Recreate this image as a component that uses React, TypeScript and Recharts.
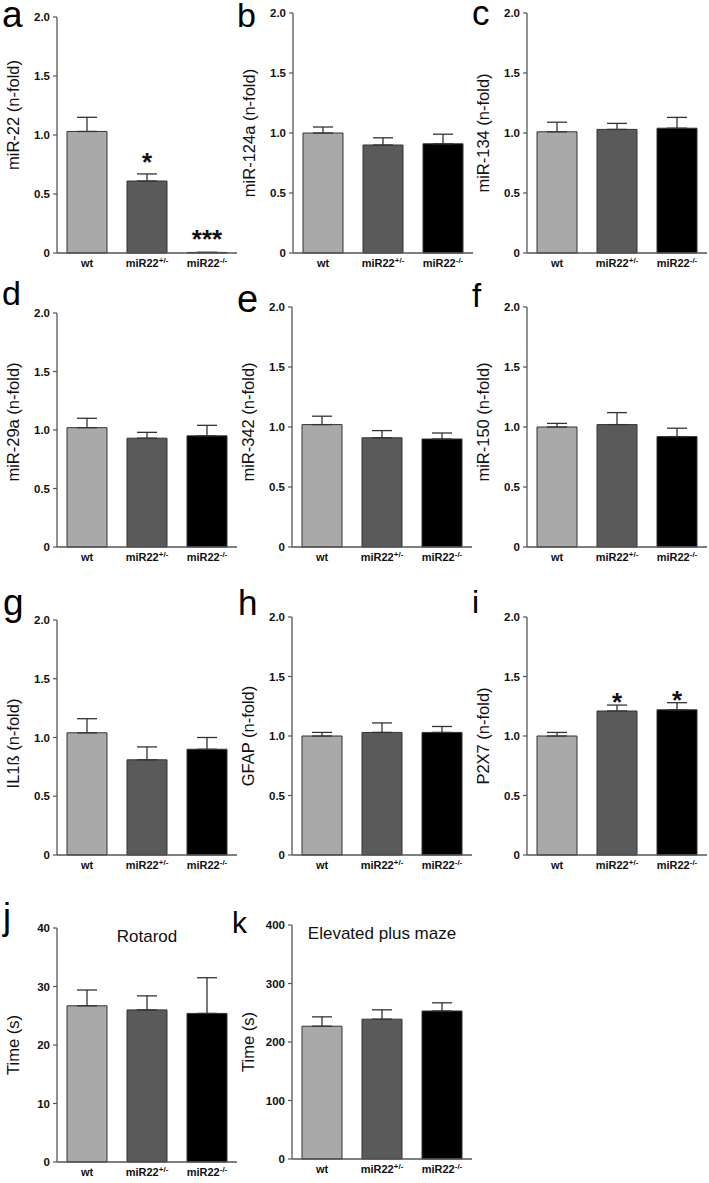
import React from "react";
import {
  ComposedChart,
  Bar,
  Cell,
  XAxis,
  YAxis,
  ErrorBar,
  ReferenceDot,
  Label
} from "recharts";

const FONT = "Liberation Sans, Arial, sans-serif";

const genotypes = ["wt", "miR22+/-", "miR22-/-"];
const genotypeColors = ["#a9a9a9", "#5a5a5a", "#000000"];

const foldTicks = [0, 0.5, 1, 1.5, 2];
const rotarodTicks = [0, 10, 20, 30, 40];
const mazeTicks = [0, 100, 200, 300, 400];

// means and upper SEM (wt, het, ko)
const miR22Mean = [1.03, 0.61, 0.005];
const miR22Sem = [0.12, 0.06, 0];
const miR22Stars = ["", "*", "***"];
const miR22StarAt = [0, 0.82, 0.17];

const miR124aMean = [1.0, 0.9, 0.91];
const miR124aSem = [0.05, 0.06, 0.08];

const miR134Mean = [1.01, 1.03, 1.04];
const miR134Sem = [0.08, 0.05, 0.09];

const miR29aMean = [1.02, 0.93, 0.95];
const miR29aSem = [0.08, 0.05, 0.09];

const miR342Mean = [1.02, 0.91, 0.9];
const miR342Sem = [0.07, 0.06, 0.05];

const miR150Mean = [1.0, 1.02, 0.92];
const miR150Sem = [0.03, 0.1, 0.07];

const il1bMean = [1.04, 0.81, 0.9];
const il1bSem = [0.12, 0.11, 0.1];

const gfapMean = [1.0, 1.03, 1.03];
const gfapSem = [0.03, 0.08, 0.05];

const p2x7Mean = [1.0, 1.21, 1.22];
const p2x7Sem = [0.03, 0.05, 0.06];
const p2x7Stars = ["", "*", "*"];
const p2x7StarAt = [0, 1.34, 1.35];

const rotarodMean = [26.7, 26.0, 25.4];
const rotarodSem = [2.7, 2.4, 6.1];

const mazeMean = [227, 239, 253];
const mazeSem = [16, 16, 14];

type PanelDef = {
  letter: string;
  label: string;
  mean: number[];
  sem: number[];
  ticks: number[];
  stars?: string[];
  starAt?: number[];
  title?: string;
  axisX: number;
  top: number;
  zero: number;
  labelShift: number;
  letterX: number;
  letterY: number;
  letterSize: number;
};

const panels: PanelDef[] = [
  { letter: "a", label: "miR-22 (n-fold)", mean: miR22Mean, sem: miR22Sem, ticks: foldTicks, stars: miR22Stars, starAt: miR22StarAt, axisX: 57, top: 17, zero: 253, labelShift: -20, letterX: 2, letterY: 27, letterSize: 37 },
  { letter: "b", label: "miR-124a (n-fold)", mean: miR124aMean, sem: miR124aSem, ticks: foldTicks, axisX: 293, top: 13, zero: 253, labelShift: 0, letterX: 237, letterY: 27, letterSize: 34 },
  { letter: "c", label: "miR-134 (n-fold)", mean: miR134Mean, sem: miR134Sem, ticks: foldTicks, axisX: 527, top: 13, zero: 253, labelShift: 0, letterX: 472, letterY: 25, letterSize: 35 },
  { letter: "d", label: "miR-29a (n-fold)", mean: miR29aMean, sem: miR29aSem, ticks: foldTicks, axisX: 57, top: 313, zero: 547, labelShift: -8, letterX: 2, letterY: 305, letterSize: 34 },
  { letter: "e", label: "miR-342 (n-fold)", mean: miR342Mean, sem: miR342Sem, ticks: foldTicks, axisX: 292, top: 307, zero: 547, labelShift: -5, letterX: 237, letterY: 312, letterSize: 38 },
  { letter: "f", label: "miR-150 (n-fold)", mean: miR150Mean, sem: miR150Sem, ticks: foldTicks, axisX: 527, top: 307, zero: 547, labelShift: -5, letterX: 472, letterY: 307, letterSize: 33 },
  { letter: "g", label: "IL1ß (n-fold)", mean: il1bMean, sem: il1bSem, ticks: foldTicks, axisX: 57, top: 620, zero: 855, labelShift: 6, letterX: 3, letterY: 615, letterSize: 37 },
  { letter: "h", label: "GFAP (n-fold)", mean: gfapMean, sem: gfapSem, ticks: foldTicks, axisX: 292, top: 617, zero: 855, labelShift: 0, letterX: 238, letterY: 615, letterSize: 35 },
  { letter: "i", label: "P2X7 (n-fold)", mean: p2x7Mean, sem: p2x7Sem, ticks: foldTicks, stars: p2x7Stars, starAt: p2x7StarAt, axisX: 527, top: 617, zero: 855, labelShift: 0, letterX: 472, letterY: 613, letterSize: 32 },
  { letter: "j", label: "Time (s)", mean: rotarodMean, sem: rotarodSem, ticks: rotarodTicks, title: "Rotarod", axisX: 57, top: 928, zero: 1162, labelShift: 0, letterX: 3, letterY: 929, letterSize: 36 },
  { letter: "k", label: "Time (s)", mean: mazeMean, sem: mazeSem, ticks: mazeTicks, title: "Elevated plus maze", axisX: 292, top: 925, zero: 1159, labelShift: 0, letterX: 232, letterY: 933, letterSize: 30 }
];

const GenoTick = (props: any) => {
  const { x, y, payload } = props;
  const v = String(payload.value);
  const isMut = v.startsWith("miR22");
  const base = isMut ? "miR22" : v;
  const sup = isMut ? v.slice(5) : "";
  return (
    <text x={x} y={y + 14} textAnchor="middle" fontSize={11} fontWeight="bold" fill="#111" fontFamily={FONT}>
      <tspan>{base}</tspan>
      {sup && (
        <tspan dy={-4} fontSize={8}>
          {sup}
        </tspan>
      )}
    </text>
  );
};

const fmtTick = (v: number) => {
  if (v === 0) return "0";
  return Number.isInteger(v) && v >= 10 ? String(v) : v.toFixed(1);
};

function Panel({ p }: { p: PanelDef }) {
  const data = genotypes.map((g, i) => ({ g, v: p.mean[i], e: [0, p.sem[i]] }));
  const padTop = 16;
  const xAxisH = 30;
  const yAxisW = 57;
  const plotW = 180;
  const width = yAxisW + plotW + 4;
  const height = padTop + (p.zero - p.top) + xAxisH;
  const yMax = p.ticks[p.ticks.length - 1];

  return (
    <div style={{ position: "absolute", left: p.axisX - yAxisW, top: p.top - padTop }}>
      <ComposedChart
        width={width}
        height={height}
        data={data}
        margin={{ top: padTop, right: 4, bottom: 0, left: 0 }}
      >
        <XAxis
          dataKey="g"
          type="category"
          height={xAxisH}
          interval={0}
          tickLine={false}
          tickSize={0}
          tickMargin={0}
          axisLine={{ stroke: "#555", strokeWidth: 1.3 }}
          tick={<GenoTick />}
        />
        <YAxis
          width={yAxisW}
          domain={[0, yMax]}
          ticks={p.ticks}
          tickFormatter={fmtTick}
          tickSize={4}
          tickMargin={3}
          axisLine={{ stroke: "#555", strokeWidth: 1.3 }}
          tickLine={{ stroke: "#555", strokeWidth: 1.2 }}
          tick={{ fontSize: 11.5, fontWeight: "bold", fill: "#111", fontFamily: FONT }}
        >
          <Label
            content={(lp: any) => {
              const vb = lp.viewBox || {};
              const cx = (vb.x || 0) + 13;
              const cy = (vb.y || 0) + (vb.height || 0) / 2 + p.labelShift;
              return (
                <text
                  x={cx}
                  y={cy}
                  transform={`rotate(-90 ${cx} ${cy})`}
                  textAnchor="middle"
                  dominantBaseline="central"
                  fontSize={16.5}
                  fill="#111"
                  fontFamily={FONT}
                >
                  {p.label}
                </text>
              );
            }}
          />
        </YAxis>
        <Bar dataKey="v" barSize={40} stroke="#333" strokeWidth={1} isAnimationActive={false}>
          {data.map((d, i) => (
            <Cell key={d.g} fill={genotypeColors[i]} />
          ))}
          <ErrorBar dataKey="e" width={10} stroke="#333" strokeWidth={1.3} direction="y" isAnimationActive={false} />
        </Bar>
        {p.stars &&
          p.stars.map((s, i) =>
            s ? (
              <ReferenceDot
                key={i}
                x={genotypes[i]}
                y={p.starAt![i]}
                r={0}
                shape={(sp: any) => (
                  <text
                    x={sp.cx}
                    y={sp.cy + 15}
                    textAnchor="middle"
                    fontSize={26}
                    fontWeight="bold"
                    fill="#111"
                    fontFamily={FONT}
                  >
                    {s}
                  </text>
                )}
              />
            ) : null
          )}
      </ComposedChart>
    </div>
  );
}

export default function App() {
  return (
    <div style={{ position: "absolute", left: 0, top: 0, width: 709, height: 1183, background: "#fff" }}>
      {panels.map((p) => (
        <Panel key={p.letter} p={p} />
      ))}
      <svg
        width={709}
        height={1183}
        style={{ position: "absolute", left: 0, top: 0, pointerEvents: "none" }}
      >
        {panels.map((p) => (
          <text key={p.letter} x={p.letterX} y={p.letterY} fontSize={p.letterSize} fill="#000" fontFamily={FONT}>
            {p.letter}
          </text>
        ))}
        {panels
          .filter((p) => p.title)
          .map((p) => (
            <text
              key={p.letter + "t"}
              x={p.axisX + 90}
              y={p.top + 14}
              textAnchor="middle"
              fontSize={17}
              fill="#111"
              fontFamily={FONT}
            >
              {p.title}
            </text>
          ))}
      </svg>
    </div>
  );
}
